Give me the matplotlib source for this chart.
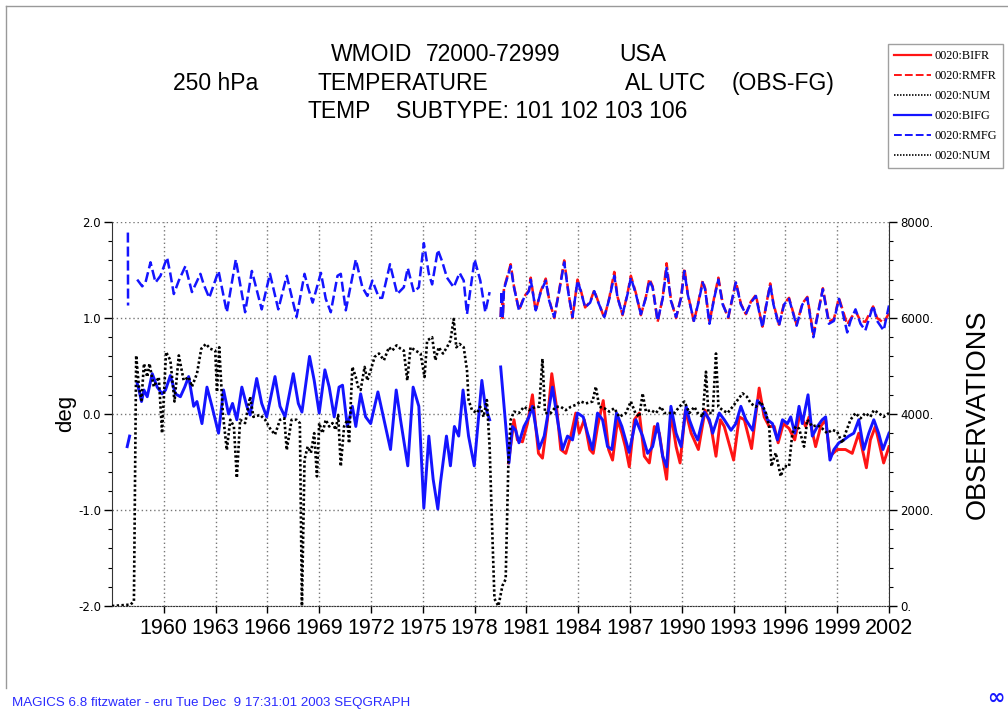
import numpy as np
import matplotlib
matplotlib.use('Agg')
import matplotlib.pyplot as plt
from matplotlib.lines import Line2D
from matplotlib.ticker import MultipleLocator, FormatStrFormatter, FuncFormatter

nan = np.nan

# ---------------------------------------------------------------- data
# RMFG : rms obs-fg (blue dashed), deg
rmfg_t = [1957.92, 1957.93, 1958.20,
          1958.46, 1958.75, 1958.94, 1959.23, 1959.52, 1959.81, 1960.19, 1960.38, 1960.58, 1960.87,
          1961.25, 1961.63, 1962.12, 1962.31, 1962.63, 1963.17, 1963.65, 1964.17, 1964.71, 1965.10,
          1965.67, 1966.15, 1966.63, 1967.12, 1967.69, 1968.15, 1968.35, 1968.62, 1969.10, 1969.38,
          1969.67, 1970.06, 1970.25, 1970.54, 1971.12, 1971.50, 1971.79, 1972.08, 1972.46, 1972.65,
          1973.10, 1973.52, 1973.90, 1974.13, 1974.48, 1974.77, 1975.06, 1975.35, 1975.54, 1975.87,
          1976.12, 1976.40, 1976.79, 1977.13, 1977.37, 1977.56, 1978.00, 1978.33, 1978.62, 1978.87,
          1979.20,
          1979.51, 1979.57, 1979.63, 1979.70, 1980.09, 1980.28, 1980.57, 1980.86, 1981.15, 1981.25,
          1981.54, 1981.83, 1982.12, 1982.32, 1982.61, 1982.90, 1983.19, 1983.44, 1983.67, 1983.96,
          1984.15, 1984.40, 1984.69, 1984.93, 1985.12, 1985.51, 1985.80, 1986.09, 1986.28, 1986.57,
          1986.86, 1987.05, 1987.34, 1987.63, 1987.92, 1988.12, 1988.31, 1988.60, 1988.89, 1989.12,
          1989.37, 1989.67, 1989.96, 1990.15, 1990.34, 1990.70, 1990.95, 1991.21, 1991.35, 1991.60,
          1991.88, 1992.12, 1992.37, 1992.69, 1993.13, 1993.42, 1993.71, 1994.00, 1994.29, 1994.67,
          1994.87, 1995.12, 1995.31, 1995.63, 1995.92, 1996.21, 1996.65, 1996.98, 1997.27, 1997.62,
          1997.88, 1998.17, 1998.52, 1998.81, 1999.10, 1999.29, 1999.58, 1999.77, 2000.06, 2000.35,
          2000.63, 2001.08, 2001.31, 2001.69, 2002.00]
rmfg_v = [1.89, 1.13, nan,
          1.40, 1.33, 1.37, 1.58, 1.37, 1.44, 1.63, 1.46, 1.25, 1.39,
          1.54, 1.27, 1.46, 1.35, 1.21, 1.49, 1.06, 1.61, 1.06, 1.49,
          1.09, 1.46, 1.09, 1.44, 1.01, 1.46, 1.32, 1.16, 1.47, 1.20,
          1.06, 1.44, 1.46, 1.08, 1.61, 1.32, 1.23, 1.39, 1.21, 1.21,
          1.56, 1.25, 1.32, 1.52, 1.27, 1.32, 1.78, 1.46, 1.35, 1.71,
          1.59, 1.42, 1.32, 1.47, 1.39, 1.04, 1.61, 1.39, 1.06, 1.27,
          nan,
          1.01, 1.28, 1.00, 1.30, 1.54, 1.32, 1.08, 1.21, 1.28, 1.40,
          1.08, 1.27, 1.39, 1.18, 1.01, 1.28, 1.58, 1.25, 1.01, 1.39,
          1.28, 1.11, 1.16, 1.28, 1.18, 1.01, 1.20, 1.44, 1.21, 1.04,
          1.25, 1.42, 1.25, 1.04, 1.21, 1.39, 1.32, 0.97, 1.20, 1.52,
          1.18, 1.01, 1.21, 1.49, 1.25, 0.97, 1.15, 1.37, 1.30, 0.94,
          1.21, 1.40, 1.14, 1.01, 1.37, 1.14, 1.04, 1.16, 1.23, 0.90,
          1.11, 1.35, 1.14, 0.92, 1.14, 1.20, 0.92, 1.14, 1.21, 0.80,
          1.04, 1.30, 0.94, 0.97, 1.20, 1.08, 0.85, 0.97, 1.09, 0.94,
          0.87, 1.13, 0.97, 0.87, 1.13]

# RMFR : rms obs-fg, reanalysis (red dashed), from 1979
rmfr_t = rmfg_t[rmfg_t.index(1979.51):]
rmfr_v = [1.01, 1.27, 1.00, 1.31, 1.56, 1.33, 1.08, 1.22, 1.29, 1.42,
          1.07, 1.28, 1.41, 1.19, 1.00, 1.29, 1.60, 1.26, 1.00, 1.40,
          1.29, 1.11, 1.17, 1.29, 1.19, 1.00, 1.21, 1.48, 1.22, 1.03,
          1.26, 1.44, 1.26, 1.03, 1.22, 1.41, 1.33, 0.96, 1.21, 1.57,
          1.19, 1.00, 1.22, 1.52, 1.26, 0.96, 1.16, 1.39, 1.31, 0.95,
          1.22, 1.42, 1.15, 1.00, 1.38, 1.15, 1.04, 1.17, 1.24, 0.91,
          1.12, 1.36, 1.15, 0.93, 1.15, 1.21, 0.93, 1.15, 1.22, 0.83,
          1.05, 1.31, 0.96, 0.99, 1.21, 1.10, 0.93, 0.99, 1.07, 0.97,
          0.96, 1.12, 1.00, 0.95, 1.05]

# BIFG : bias obs-fg (blue solid), deg
bifg_t = [1957.88, 1958.02, 1958.20,
          1958.46, 1958.56, 1958.71, 1958.85, 1959.04, 1959.33, 1959.62, 1959.90, 1960.10, 1960.38,
          1960.67, 1960.96, 1961.21, 1961.44, 1961.73, 1961.92, 1962.21, 1962.50, 1962.79, 1963.17,
          1963.46, 1963.75, 1963.98, 1964.23, 1964.52, 1964.81, 1965.00, 1965.38, 1965.67, 1965.96,
          1966.44, 1966.73, 1967.02, 1967.50, 1967.79, 1968.00, 1968.44, 1968.71, 1969.00, 1969.33,
          1969.58, 1969.87, 1970.15, 1970.35, 1970.63, 1970.92, 1971.12, 1971.40, 1971.69, 1971.98,
          1972.40, 1972.75, 1973.13, 1973.46, 1973.71, 1974.13, 1974.44, 1974.77, 1975.06, 1975.35,
          1975.60, 1975.87, 1976.02, 1976.37, 1976.60, 1976.83, 1977.08, 1977.33, 1977.65, 1977.98,
          1978.42, 1978.62, 1978.87, 1979.20,
          1979.51, 1979.99, 1980.19, 1980.38, 1980.57, 1980.86, 1981.15, 1981.35, 1981.74, 1982.03,
          1982.32, 1982.51, 1982.80, 1983.09, 1983.38, 1983.67, 1983.96, 1984.29, 1984.54, 1984.83,
          1985.12, 1985.41, 1985.70, 1985.95, 1986.22, 1986.53, 1986.95, 1987.34, 1987.73, 1988.02,
          1988.31, 1988.60, 1988.89, 1989.12, 1989.37, 1989.67, 1989.96, 1990.25, 1990.44, 1990.73,
          1990.92, 1991.31, 1991.60, 1991.79, 1992.17, 1992.46, 1992.85, 1993.13, 1993.42, 1993.71,
          1994.10, 1994.38, 1994.67, 1994.96, 1995.25, 1995.54, 1995.83, 1996.12, 1996.31, 1996.54,
          1996.79, 1996.98, 1997.31, 1997.56, 1997.85, 1998.13, 1998.33, 1998.58, 1998.81, 1999.10,
          1999.38, 1999.67, 1999.96, 2000.25, 2000.54, 2000.83, 2001.12, 2001.40, 2001.65, 2002.00]
bifg_v = [-0.34, -0.23, nan,
          0.32, 0.25, 0.13, 0.25, 0.18, 0.42, 0.28, 0.21, 0.25, 0.40,
          0.21, 0.18, 0.28, 0.39, 0.08, 0.13, -0.10, 0.28, 0.08, -0.20,
          0.25, 0.00, 0.11, -0.06, 0.28, 0.08, -0.01, 0.37, 0.11, -0.03,
          0.39, 0.08, -0.03, 0.42, 0.11, 0.02, 0.60, 0.35, 0.01, 0.46,
          0.28, -0.03, 0.28, 0.30, -0.13, 0.08, -0.13, 0.21, -0.03, -0.10,
          0.23, -0.06, -0.37, 0.25, -0.06, -0.54, 0.28, 0.08, -0.98, -0.23,
          -0.68, -0.99, -0.72, -0.23, -0.54, -0.13, -0.23, 0.25, -0.23, -0.54,
          0.35, 0.08, -0.06, nan,
          0.49, -0.51, -0.13, -0.17, -0.30, -0.13, -0.03, 0.08, -0.36, -0.23,
          0.08, 0.28, -0.06, -0.37, -0.23, -0.27, 0.01, -0.03, -0.20, -0.37,
          0.01, -0.06, -0.34, -0.37, 0.01, -0.13, -0.40, -0.06, -0.23, -0.41,
          -0.34, -0.10, -0.44, -0.55, 0.08, -0.20, -0.34, 0.08, -0.06, -0.20,
          -0.27, 0.02, -0.06, -0.20, 0.01, -0.06, -0.17, -0.10, 0.08, -0.06,
          -0.17, 0.14, 0.08, -0.06, -0.10, -0.27, -0.06, -0.10, -0.03, -0.20,
          0.08, -0.10, 0.20, -0.23, -0.13, -0.06, -0.03, -0.48, -0.37, -0.30,
          -0.27, -0.23, -0.20, -0.06, -0.37, -0.20, -0.06, -0.20, -0.37, -0.20]

# BIFR : bias obs-fg, reanalysis (red solid), from 1980
bifr_t = [1979.96, 1980.28, 1980.48, 1980.77, 1981.06, 1981.35, 1981.70, 1981.93, 1982.22, 1982.47,
          1982.74, 1982.99, 1983.28, 1983.57, 1983.86, 1984.06, 1984.35, 1984.67, 1984.87, 1985.12,
          1985.45, 1985.76, 1985.99, 1986.28, 1986.53, 1986.73, 1986.96, 1987.25, 1987.54, 1987.83,
          1988.12, 1988.41, 1988.70, 1988.93, 1989.12, 1989.37, 1989.67, 1989.90, 1990.21, 1990.54,
          1990.79, 1990.96, 1991.35, 1991.69, 1991.98, 1992.23, 1992.46, 1993.00, 1993.33, 1993.62,
          1994.04, 1994.48, 1994.77, 1995.06, 1995.35, 1995.58, 1995.88, 1996.21, 1996.54, 1996.85,
          1997.17, 1997.37, 1997.75, 1998.04, 1998.33, 1998.58, 1999.00, 1999.48, 1999.87, 2000.25,
          2000.69, 2000.92, 2001.21, 2001.69, 2002.00]
bifr_v = [-0.51, -0.06, -0.27, -0.29, -0.10, 0.20, -0.41, -0.46, -0.06, 0.42,
          0.08, -0.37, -0.41, -0.23, 0.01, -0.20, -0.06, -0.37, -0.41, -0.13,
          0.14, -0.37, -0.48, -0.06, -0.20, -0.34, -0.55, -0.06, 0.01, -0.44,
          -0.51, -0.13, -0.20, -0.48, -0.68, 0.01, -0.34, -0.51, 0.04, -0.20,
          -0.30, -0.37, 0.04, -0.13, -0.44, -0.06, -0.13, -0.48, -0.03, -0.06,
          -0.36, 0.27, -0.03, -0.13, -0.13, -0.30, -0.10, -0.15, -0.27, 0.01,
          -0.13, -0.03, -0.34, -0.13, -0.06, -0.44, -0.37, -0.37, -0.41, -0.20,
          -0.56, -0.27, -0.13, -0.51, -0.34]

# NUM : number of observations (black dotted, right axis)
num_t = [1957.00, 1958.08, 1958.27, 1958.40, 1958.56, 1958.71, 1958.85, 1959.04, 1959.17, 1959.42,
         1959.71, 1959.90, 1960.13, 1960.38, 1960.62, 1960.87, 1961.15, 1961.44, 1961.63, 1961.92,
         1962.17, 1962.44, 1962.69, 1962.98, 1963.08, 1963.21, 1963.42, 1963.65, 1963.85, 1964.06,
         1964.23, 1964.42, 1964.71, 1965.00, 1965.19, 1965.58, 1965.87, 1966.15, 1966.44, 1966.73,
         1966.98, 1967.12, 1967.40, 1967.69, 1967.88, 1968.00, 1968.15, 1968.33, 1968.52, 1968.71,
         1968.87, 1969.00, 1969.19, 1969.38, 1969.58, 1969.77, 1969.96, 1970.10, 1970.25, 1970.44,
         1970.63, 1970.73, 1970.92, 1971.12, 1971.25, 1971.40, 1971.63, 1971.79, 1971.98, 1972.21,
         1972.46, 1972.75, 1973.04, 1973.23, 1973.48, 1973.71, 1973.90, 1974.10, 1974.29, 1974.58,
         1974.87, 1975.10, 1975.25, 1975.54, 1975.73, 1975.92, 1976.17, 1976.40, 1976.60, 1976.79,
         1976.94, 1977.13, 1977.37, 1977.56, 1977.65, 1977.85, 1978.13, 1978.33, 1978.52, 1978.71,
         1978.87, 1979.00, 1979.15, 1979.38, 1979.61, 1979.80, 1979.96, 1980.09, 1980.28, 1980.57,
         1980.86, 1981.15, 1981.54, 1981.74, 1981.93, 1982.08, 1982.41, 1982.70, 1982.99, 1983.28,
         1983.57, 1983.86, 1984.15, 1984.44, 1984.83, 1985.02, 1985.22, 1985.51, 1985.80, 1986.09,
         1986.38, 1986.76, 1987.05, 1987.31, 1987.54, 1987.73, 1987.92, 1988.21, 1988.50, 1988.80,
         1988.99, 1989.28, 1989.57, 1989.86, 1990.15, 1990.44, 1990.73, 1990.92, 1991.21, 1991.40,
         1991.54, 1991.79, 1991.98, 1992.12, 1992.37, 1992.65, 1992.94, 1993.23, 1993.52, 1993.77,
         1994.00, 1994.29, 1994.58, 1994.87, 1995.06, 1995.19, 1995.44, 1995.73, 1995.92, 1996.21,
         1996.40, 1996.60, 1996.79, 1997.08, 1997.27, 1997.56, 1997.85, 1998.13, 1998.42, 1998.71,
         1999.00, 1999.29, 1999.48, 1999.77, 2000.06, 2000.35, 2000.63, 2000.92, 2001.12, 2001.40,
         2001.69, 2002.00]
num_v = [0, 30, 100, 5220, 4560, 4290, 5050, 4770, 5050, 4570,
         4770, 3600, 5290, 5120, 4260, 5220, 4700, 4770, 4570, 4840,
         5360, 5460, 5360, 5320, 4460, 5390, 4010, 3250, 3880, 3740,
         2670, 3880, 3810, 4360, 3940, 3980, 3880, 3700, 3570, 3880,
         3910, 3250, 3880, 3880, 3810, 0, 3050, 3320, 3190, 3600,
         2700, 3810, 3600, 3880, 3740, 3810, 3670, 3980, 2910, 3740,
         3880, 3390, 4980, 4770, 4570, 4500, 4980, 4700, 4910, 5190,
         5260, 5120, 5390, 5320, 5430, 5360, 5320, 4700, 5390, 5320,
         5260, 4770, 5530, 5600, 5120, 5390, 5260, 5390, 5530, 5980,
         5390, 5460, 5390, 4910, 4290, 4080, 4020, 4150, 3940, 4290,
         3320, 1800, 150, 0, 420, 560, 3050, 3880, 4050, 4020,
         4150, 4080, 4150, 4150, 5150, 4020, 4020, 4150, 4150, 4080,
         4150, 4190, 4260, 4220, 4260, 4570, 4150, 4120, 4050, 4120,
         3940, 4020, 4260, 4020, 3940, 4430, 4050, 4080, 4020, 4150,
         4020, 4020, 4020, 4150, 4260, 4020, 4150, 4020, 3940, 4880,
         4020, 4020, 5260, 4150, 4080, 4020, 4150, 4290, 4430, 4360,
         4220, 4150, 4260, 4020, 3740, 2910, 3190, 2700, 2910, 2910,
         3600, 3740, 3700, 3320, 3880, 3740, 3770, 3700, 3600, 3670,
         3630, 3390, 3600, 3880, 4020, 3910, 4020, 3940, 4080, 4020,
         3940, 4020]

year_ticks = list(range(1960, 2003, 3))
deg_ticks = [-2.0, -1.0, 0.0, 1.0, 2.0]
obs_ticks = [0, 2000, 4000, 6000, 8000]
legend_labels = ['0020:BIFR', '0020:RMFR', '0020:NUM', '0020:BIFG', '0020:RMFG', '0020:NUM']

# ---------------------------------------------------------------- figure
W, H = 1008, 709
def fx(x):
    return x / W
def fy(y):
    return 1 - y / H

BLUE = '#1414ff'
RED = '#ff1414'
dash = (0, (4, 1.6))
dots = (0, (0.9, 0.9))

fig = plt.figure(figsize=(W / 100, H / 100), dpi=100)
ax = fig.add_axes([fx(112), fy(606), (889 - 112) / W, (606 - 222) / H])
ax2 = ax.twinx()

l_bifr, = ax.plot(bifr_t, bifr_v, color=RED, lw=2.1, solid_joinstyle='round')
l_rmfr, = ax.plot(rmfr_t, rmfr_v, color=RED, lw=1.8, linestyle=dash)
l_bifg, = ax.plot(bifg_t, bifg_v, color=BLUE, lw=2.1, solid_joinstyle='round')
l_rmfg, = ax.plot(rmfg_t, rmfg_v, color=BLUE, lw=1.8, linestyle=dash)
l_num, = ax2.plot(num_t, num_v, color='black', lw=1.9, linestyle=dots)

ax.set_xlim(1957, 2002)
ax.set_ylim(-2, 2)
ax2.set_ylim(0, 8000)

ax.set_xticks(year_ticks)
ax.set_xticklabels([str(y) for y in year_ticks], fontsize=15.5, family='Liberation Sans')
ax.set_yticks(deg_ticks)
ax.yaxis.set_major_formatter(FormatStrFormatter('%.1f'))
ax.yaxis.set_minor_locator(MultipleLocator(0.2))
ax2.set_yticks(obs_ticks)
ax2.yaxis.set_major_formatter(FuncFormatter(lambda v, p: '%d.' % v))
ax2.yaxis.set_minor_locator(MultipleLocator(400))

ax.tick_params(axis='x', direction='out', length=5, width=1, pad=4, colors='black')
ax.tick_params(axis='y', which='major', direction='out', length=6, width=1, labelsize=8.5, pad=2)
ax.tick_params(axis='y', which='minor', direction='out', length=3, width=0.8)
ax2.tick_params(axis='y', which='major', direction='out', length=6, width=1, labelsize=8.5, pad=2)
ax2.tick_params(axis='y', which='minor', direction='out', length=3, width=0.8)

ax.grid(True, which='major', color='#777777', linestyle=(0, (1, 2)), linewidth=1)

ax.spines['top'].set_visible(False)
ax.spines['right'].set_visible(False)
ax.spines['bottom'].set_linestyle((0, (1, 1.5)))
ax.spines['bottom'].set_color('#333333')
ax.spines['left'].set_color('#333333')
for s in ['left', 'top', 'bottom']:
    ax2.spines[s].set_visible(False)
ax2.spines['right'].set_color('#333333')

fig.text(fx(66), fy(413), 'deg', rotation=90, fontsize=16, family='Liberation Sans',
         ha='center', va='center')
fig.text(fx(978), fy(414), 'OBSERVATIONS', rotation=90, fontsize=19.5,
         family='Liberation Sans', ha='center', va='center')

# title block
tkw = dict(fontsize=16.5, family='Liberation Sans', va='baseline', ha='left')
fig.text(fx(331), fy(61), 'WMOID', **tkw)
fig.text(fx(426), fy(61), '72000-72999', **tkw)
fig.text(fx(619), fy(61), 'USA', **tkw)
fig.text(fx(173), fy(90), '250 hPa', **tkw)
fig.text(fx(318), fy(90), 'TEMPERATURE', **tkw)
fig.text(fx(625), fy(90), 'AL UTC', **tkw)
fig.text(fx(732), fy(90), '(OBS-FG)', **tkw)
fig.text(fx(307), fy(118), 'TEMP', **tkw)
fig.text(fx(396), fy(118), 'SUBTYPE: 101 102 103 106', **tkw)

# legend
handles = [Line2D([], [], color=RED, lw=1.6),
           Line2D([], [], color=RED, lw=1.4, linestyle=dash),
           Line2D([], [], color='black', lw=1.2, linestyle=dots),
           Line2D([], [], color=BLUE, lw=1.6),
           Line2D([], [], color=BLUE, lw=1.4, linestyle=dash),
           Line2D([], [], color='black', lw=1.2, linestyle=dots)]
leg = fig.legend(handles, legend_labels, loc='upper left',
                 bbox_to_anchor=(fx(888), fy(44)), frameon=True, fancybox=False,
                 prop={'family': 'Liberation Serif', 'size': 8.8},
                 handlelength=3.0, handletextpad=0.3, labelspacing=0.65,
                 borderpad=0.5, borderaxespad=0)
leg.get_frame().set_edgecolor('#888888')
leg.get_frame().set_linewidth(1.0)

# page frame and footer
fig.add_artist(Line2D([fx(6), fx(6)], [fy(688), fy(6)], color='#999999', lw=1,
                      transform=fig.transFigure))
fig.add_artist(Line2D([fx(6), 1.0], [fy(6), fy(6)], color='#999999', lw=1,
                      transform=fig.transFigure))
fig.text(fx(12), fy(706), 'MAGICS 6.8 fitzwater - eru Tue Dec  9 17:31:01 2003 SEQGRAPH',
         color='#2a2aff', fontsize=9.6, family='Liberation Sans', va='baseline')
fig.text(fx(996), fy(698), '\u221e', color='#1a1aff', fontsize=15, fontweight='bold',
         ha='center', va='center')

fig.savefig('out.png', dpi=100)
